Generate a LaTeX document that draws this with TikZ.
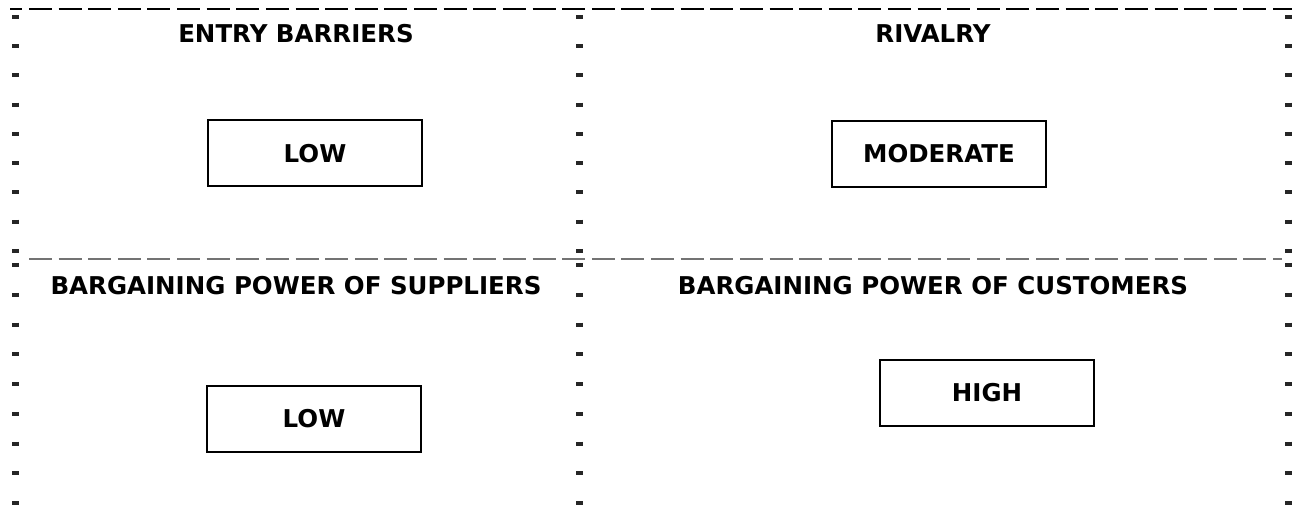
\documentclass[tikz,border=0pt]{standalone}
\usepackage{fontspec}
\setmainfont{DejaVu Sans}
\begin{document}
\begin{tikzpicture}[x=1pt,y=-1pt,
  title/.style={font=\fontsize{24.5}{29}\selectfont\bfseries, inner sep=0pt},
  valbox/.style={draw, line width=2pt, inner sep=0pt, minimum width=214pt, minimum height=66pt,
    font=\fontsize{24.5}{29}\selectfont\bfseries},
  hborder/.style={line width=2.5pt, black, dash pattern=on 23pt off 6.62pt, dash phase=10.62pt},
  hmid/.style={line width=2pt, black!55, dash pattern=on 23pt off 6.62pt, dash phase=28.62pt},
  vtop/.style={line width=7.5pt, black!85, dash pattern=on 4pt off 25.25pt},
  vbot/.style={line width=7.5pt, black!85, dash pattern=on 4pt off 25.75pt}]
\useasboundingbox (0,0) rectangle (1295,521);

% borders
\coordinate (tl) at (10,9);
\coordinate (tr) at (1292,9);
\coordinate (ml) at (28,259);
\coordinate (mr) at (1282,259);
\draw[hborder] (tl) -- (tr);
\draw[hmid] (ml) -- (mr);
\foreach \x/\n in {15.5/l,579.5/m,1288.5/r}{
  \coordinate (a\n) at (\x,15);
  \coordinate (b\n) at (\x,255);
  \coordinate (c\n) at (\x,263);
  \coordinate (d\n) at (\x,505);
  \draw[vtop] (a\n) -- (b\n);
  \draw[vbot] (c\n) -- (d\n);
}

% titles
\node[title] (t1) at (296,34) {ENTRY BARRIERS};
\node[title] (t2) at (933,34) {RIVALRY};
\node[title] (t3) at (296,286) {BARGAINING POWER OF SUPPLIERS};
\node[title] (t4) at (933,286) {BARGAINING POWER OF CUSTOMERS};

% value boxes
\node[valbox] (v1) at (315,153.5) {LOW};
\node[valbox] (v2) at (939,154) {MODERATE};
\node[valbox] (v3) at (987,393) {HIGH};
\node[valbox] (v4) at (314,418.5) {LOW};
\end{tikzpicture}
\end{document}
